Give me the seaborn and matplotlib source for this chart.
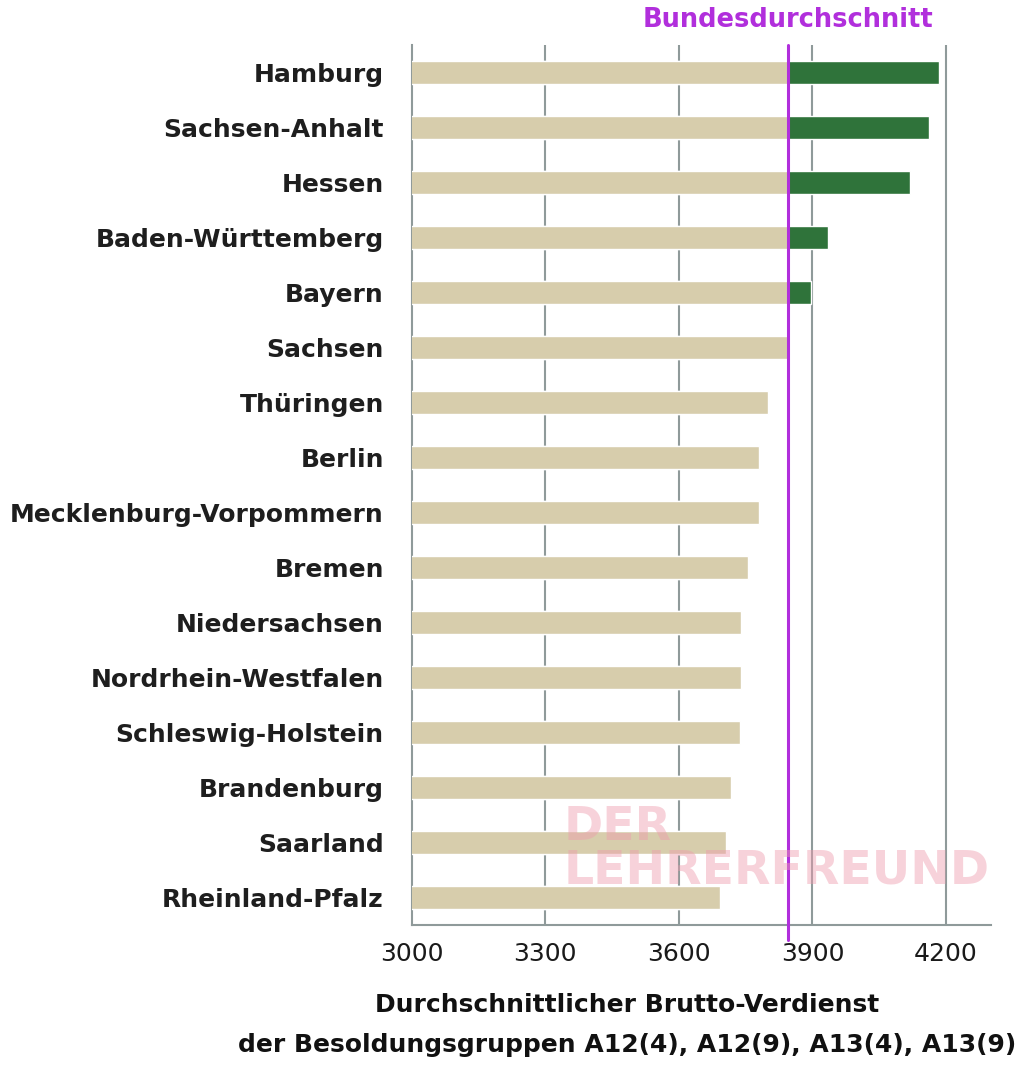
import matplotlib
matplotlib.use("Agg")
import matplotlib.pyplot as plt
import seaborn as sns
import numpy as np
import pandas as pd

# Bundeslaender, sortiert nach Verdienst
states = [
    "Hamburg", "Sachsen-Anhalt", "Hessen", "Baden-Württemberg", "Bayern",
    "Sachsen", "Thüringen", "Berlin", "Mecklenburg-Vorpommern", "Bremen",
    "Niedersachsen", "Nordrhein-Westfalen", "Schleswig-Holstein",
    "Brandenburg", "Saarland", "Rheinland-Pfalz",
]
salary = [4185, 4162, 4119, 3936, 3897, 3846, 3801, 3780, 3780, 3755,
          3740, 3740, 3737, 3718, 3705, 3693]
federal_avg = 3846

xticks = [3000, 3300, 3600, 3900, 4200]

TAN = "#d7cdac"
GREEN = "#2f733a"
PURPLE = "#b12fdc"
GRID = "#8f9a9a"

df = pd.DataFrame({"state": states, "salary": salary})
df["base"] = np.minimum(df["salary"], federal_avg)

sns.set_style("white")
plt.rcParams["font.family"] = ["DejaVu Sans"]

fig = plt.figure(figsize=(10.34, 10.65), dpi=100)
ax = fig.add_axes([0.398, 0.1315, 0.56, 0.8265])

# full bar in green, then the part up to the average in tan on top
sns.barplot(data=df, x="salary", y="state", orient="h", color=GREEN,
            width=0.42, saturation=1, ax=ax, zorder=2)
sns.barplot(data=df, x="base", y="state", orient="h", color=TAN,
            width=0.42, saturation=1, ax=ax, zorder=3)

n = len(states)
ax.set_xlim(3000, 4300)
ax.set_ylim(n - 0.5, -0.5)
ax.set_xticks(xticks)
ax.set_xticklabels([str(t) for t in xticks], fontsize=18, color="#1a1a1a")

for t in xticks[1:]:
    ax.axvline(t, color=GRID, lw=1.5, zorder=1)

# Bundesdurchschnitt line
ax.plot([federal_avg, federal_avg], [-0.5, n - 0.5 + 0.27],
        color=PURPLE, lw=2.2, zorder=5, clip_on=False)
ax.text(federal_avg, -0.72, "Bundesdurchschnitt", color=PURPLE,
        fontsize=18.5, fontweight="bold", ha="center", va="bottom")

# category labels, ticks between bars
ax.set_yticks(range(n))
ax.set_yticklabels(states, fontsize=18, fontweight="bold", color="#1e1e1e")
ax.tick_params(axis="y", which="major", length=0, pad=20)
ax.set_yticks(np.arange(-0.5, n, 1), minor=True)
ax.tick_params(axis="y", which="minor", length=7, width=1.5, color=GRID)
ax.tick_params(axis="x", which="major", length=8, width=1.5, color=GRID,
               pad=4)

ax.set_ylabel("")
ax.set_xlabel("Durchschnittlicher Brutto-Verdienst\n"
              "der Besoldungsgruppen A12(4), A12(9), A13(4), A13(9)",
              fontsize=18, fontweight="bold", color="#111", linespacing=1.85)
ax.xaxis.set_label_coords(0.373, -0.077)
ax.xaxis.label.set_va("top")

for side in ["top", "right"]:
    ax.spines[side].set_visible(False)
for side in ["left", "bottom"]:
    ax.spines[side].set_color(GRID)
    ax.spines[side].set_linewidth(1.5)

# watermark
fig.text(0.545, 0.161, "DER\nLEHRERFREUND", color="#ef9cae", alpha=0.45,
         fontsize=34, fontweight="bold", ha="left", va="bottom",
         linespacing=0.95, zorder=10)

fig.savefig("out.png", dpi=100)
